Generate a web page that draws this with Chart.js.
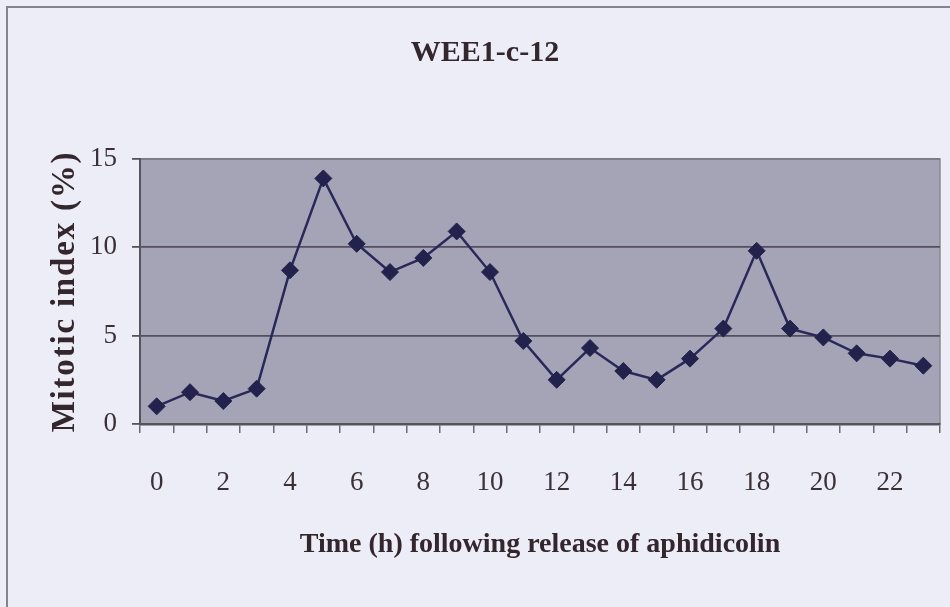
<!DOCTYPE html>
<html>
<head>
<meta charset="utf-8">
<title>WEE1-c-12</title>
<script src="https://cdn.jsdelivr.net/npm/chart.js@4.4.1/dist/chart.umd.min.js"></script>
<style>
  html, body { margin: 0; padding: 0; background: #ededf7; }
  #wrap { position: relative; width: 950px; height: 607px; overflow: hidden; }
  #frame { position: absolute; left: 6px; top: 6px; width: 2000px; height: 2000px;
           border-left: 2px solid #85848e; border-top: 2px solid #85848e; }
  canvas { position: absolute; left: 0; top: 0; }
</style>
</head>
<body>
<div id="wrap">
  <div id="frame"></div>
  <canvas id="chart" width="950" height="607"></canvas>
</div>
<script>
// hours after release from the aphidicolin block
const hours = ['0', '1', '2', '3', '4', '5', '6', '7', '8', '9', '10', '11',
               '12', '13', '14', '15', '16', '17', '18', '19', '20', '21', '22', '23'];
// mitotic index, %
const mitoticIndex = [1.0, 1.8, 1.3, 2.0, 8.7, 13.9, 10.2, 8.6, 9.4, 10.9, 8.6, 4.7,
                      2.5, 4.3, 3.0, 2.5, 3.7, 5.4, 9.8, 5.4, 4.9, 4.0, 3.7, 3.3];
const yTicks = [0, 5, 10, 15];

const serif = 'Liberation Serif, Times New Roman, serif';

// grey plot area with a thin frame
const plotBackdrop = {
  id: 'plotBackdrop',
  beforeDraw(chart) {
    const { ctx, chartArea: a } = chart;
    ctx.save();
    ctx.fillStyle = '#a5a4b6';
    ctx.fillRect(a.left, a.top, a.width, a.height);
    ctx.strokeStyle = '#8b8a96';
    ctx.lineWidth = 1.5;
    ctx.strokeRect(a.left, a.top, a.width, a.height);
    ctx.restore();
  }
};

// the y title is set with wide letter spacing
const spacedYTitle = {
  id: 'spacedYTitle',
  beforeDraw(chart) {
    const s = chart.scales.y;
    if (s._spaced) return;
    const orig = s.drawTitle;
    s.drawTitle = function () {
      const prev = this.ctx.letterSpacing;
      this.ctx.letterSpacing = '1.8px';
      orig.apply(this, arguments);
      this.ctx.letterSpacing = prev;
    };
    s._spaced = true;
  }
};

new Chart(document.getElementById('chart'), {
  type: 'line',
  data: {
    labels: hours,
    datasets: [{
      data: mitoticIndex,
      borderColor: '#29285a',
      borderWidth: 2.5,
      tension: 0,
      pointStyle: 'rectRot',
      pointRadius: 8.5,
      pointBackgroundColor: '#23224d',
      pointBorderColor: '#23224d',
      pointBorderWidth: 1
    }]
  },
  options: {
    responsive: false,
    animation: false,
    layout: { padding: { left: 30, right: 10, top: 10, bottom: 0 } },
    plugins: {
      legend: { display: false },
      tooltip: { enabled: false },
      title: {
        display: true,
        text: 'WEE1-c-12',
        color: '#33262c',
        font: { family: serif, size: 30, weight: 'bold' },
        padding: { top: 25, bottom: 88 }
      }
    },
    scales: {
      x: {
        offset: true,
        afterFit: s => { s.height = 183; s.paddingLeft = 0; s.paddingRight = 0; },
        grid: {
          offset: true,
          drawOnChartArea: false,
          tickLength: 9,
          color: '#6c6b74',
          lineWidth: 1.5
        },
        border: { display: true, color: '#55545c', width: 2.5 },
        ticks: {
          autoSkip: false,
          maxRotation: 0,
          padding: 34,
          color: '#3a3036',
          font: { family: serif, size: 27 },
          callback: (value, index) => (index % 2 ? '' : hours[index])
        },
        title: {
          display: true,
          text: 'Time (h) following release of aphidicolin',
          color: '#33262c',
          font: { family: serif, size: 28, weight: 'bold' },
          padding: { top: 0, bottom: 45 }
        }
      },
      y: {
        min: 0,
        max: 15,
        afterFit: s => { s.width = 110; },
        afterBuildTicks: s => { s.ticks = yTicks.map(v => ({ value: v })); },
        grid: {
          tickLength: 8,
          lineWidth: 1.8,
          tickColor: '#55545c',
          color: ctx => {
            const v = ctx.tick && ctx.tick.value;
            if (v === 5 || v === 10) return '#554c5e';
            if (v === 15) return '#7b7a86';
            return 'rgba(0,0,0,0)';
          }
        },
        border: { display: true, color: '#55545c', width: 2 },
        ticks: {
          padding: 15,
          color: '#3a3036',
          font: { family: serif, size: 27 }
        },
        title: {
          display: true,
          text: 'Mitotic index (%)',
          color: '#33262c',
          font: { family: serif, size: 33, weight: 'bold' },
          padding: { top: 16, bottom: 0 }
        }
      }
    }
  },
  plugins: [plotBackdrop, spacedYTitle]
});
</script>
</body>
</html>
